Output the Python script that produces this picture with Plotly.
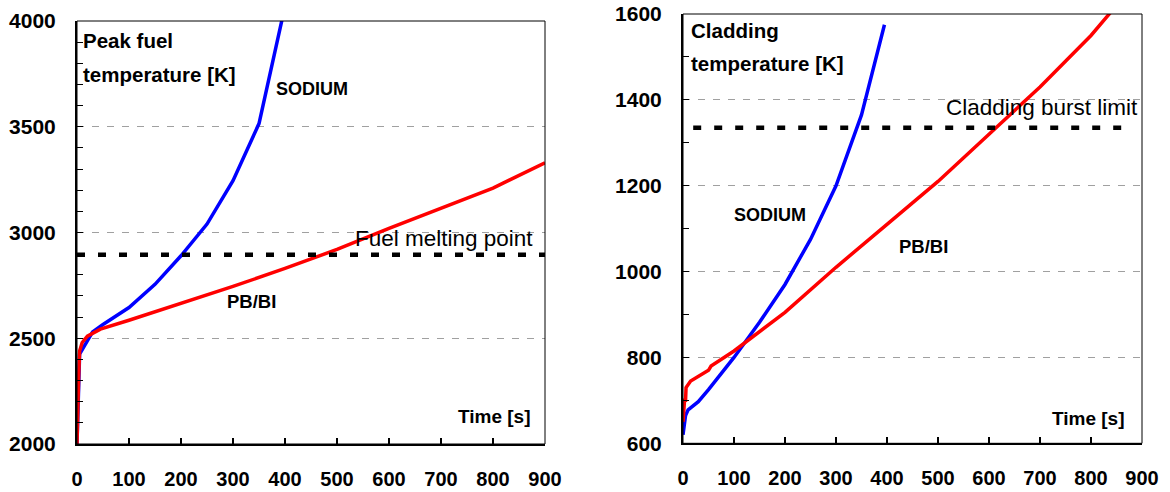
import plotly.graph_objects as go

# ---------------- data ----------------
# Left panel: peak fuel temperature [K] vs time [s]
fuel_sodium_t = [0, 2, 5, 30, 50, 100, 150, 200, 250, 300, 350, 400]
fuel_sodium_T = [2000, 2200, 2425, 2530, 2565, 2645, 2755, 2890, 3040, 3245, 3515, 4070]
fuel_pbbi_t = [0, 2, 3, 5, 10, 20, 45, 100, 200, 300, 400, 500, 600, 700, 800, 900]
fuel_pbbi_T = [2000, 2290, 2300, 2440, 2480, 2510, 2543, 2585, 2665, 2745, 2830, 2920, 3020, 3115, 3210, 3330]
fuel_melting_point = 2895
fuel_limit_t = [0, 900]

# Right panel: cladding temperature [K] vs time [s]
clad_sodium_t = [0, 2, 5, 10, 30, 50, 100, 150, 200, 250, 300, 350, 395]
clad_sodium_T = [620, 645, 665, 678, 697, 725, 800, 882, 970, 1075, 1200, 1365, 1575]
clad_pbbi_t = [0, 2, 3, 5, 6, 15, 50, 55, 80, 100, 200, 300, 400, 500, 600, 700, 800, 850]
clad_pbbi_T = [650, 690, 700, 700, 730, 745, 770, 780, 800, 815, 905, 1010, 1110, 1210, 1320, 1430, 1550, 1620]
clad_burst_limit = 1335
clad_limit_t = [20, 880]

x_ticks = [0, 100, 200, 300, 400, 500, 600, 700, 800, 900]
fuel_y_ticks = [2000, 2500, 3000, 3500, 4000]
clad_y_ticks = [600, 800, 1000, 1200, 1400, 1600]

# ---------------- style ----------------
W, H = 1170, 492
NARROW = "Liberation Sans Narrow, Liberation Sans, Arial, sans-serif"
REG = "Liberation Sans, Arial, sans-serif"
BLUE = "#0000FF"
RED = "#FF0000"

fig = go.Figure()

def add_curves(xa, ya, st, sT, pt, pT, lt, lv):
    fig.add_trace(go.Scatter(x=st, y=sT, mode="lines", line=dict(color=BLUE, width=3.5),
                             xaxis=xa, yaxis=ya, showlegend=False, name="SODIUM"))
    fig.add_trace(go.Scatter(x=pt, y=pT, mode="lines", line=dict(color=RED, width=3.5),
                             xaxis=xa, yaxis=ya, showlegend=False, name="PB/BI"))
    fig.add_trace(go.Scatter(x=lt, y=[lv, lv], mode="lines",
                             line=dict(color="black", width=4.5, dash="8px,13px"),
                             xaxis=xa, yaxis=ya, showlegend=False, name="limit"))

add_curves("x", "y", fuel_sodium_t, fuel_sodium_T, fuel_pbbi_t, fuel_pbbi_T,
           fuel_limit_t, fuel_melting_point)
add_curves("x2", "y2", clad_sodium_t, clad_sodium_T, clad_pbbi_t, clad_pbbi_T,
           clad_limit_t, clad_burst_limit)

def xaxis(domain, anchor):
    return dict(domain=domain, anchor=anchor, range=[0, 900], tickvals=x_ticks,
                ticks="inside", ticklen=6, tickwidth=1.5, tickcolor="black",
                showline=True, linecolor="black", linewidth=2, mirror=False,
                showgrid=False, zeroline=False, automargin=False,
                tickfont=dict(family=NARROW, size=20, color="black", weight="bold"),
                ticklabelstandoff=16)

def yaxis(domain, anchor, rng, vals):
    return dict(domain=domain, anchor=anchor, range=rng, tickvals=vals,
                ticks="inside", ticklen=6, tickwidth=1, tickcolor="black",
                showline=True, linecolor="black", linewidth=2, mirror=False,
                showgrid=True, gridcolor="#A0A0A0", gridwidth=1, griddash="7px,8px",
                zeroline=False, automargin=False,
                tickfont=dict(family=NARROW, size=21, color="black", weight="bold"),
                ticklabelstandoff=15,
                minor=dict(dtick=100, ticks="inside", ticklen=6, tickcolor="black",
                           tickwidth=1, showgrid=False))

L_x = [77 / W, 545 / W]
R_x = [683 / W, 1142 / W]
L_y = [1 - 444 / H, 1 - 21 / H]
R_y = [1 - 443.3 / H, 1 - 14 / H]

fig.update_layout(
    width=W, height=H,
    margin=dict(l=0, r=0, t=0, b=0, autoexpand=False),
    paper_bgcolor="white", plot_bgcolor="white",
    xaxis=xaxis(L_x, "y"),
    yaxis=yaxis(L_y, "x", [2000, 4000], fuel_y_ticks),
    xaxis2=xaxis(R_x, "y2"),
    yaxis2=yaxis(R_y, "x2", [600, 1600], clad_y_ticks),
)

# plot frames (top and right borders)
for xr, yr in [("x", "y"), ("x2", "y2")]:
    fig.add_shape(type="rect", xref=f"{xr} domain", yref=f"{yr} domain",
                  x0=0, x1=1, y0=0, y1=1, line=dict(color="black", width=1),
                  layer="above")

def label(px, py, text, bold=True, size=20.5):
    font = dict(family=NARROW if bold else REG, size=size, color="black",
                weight="bold" if bold else "normal")
    fig.add_annotation(x=px / W, y=1 - py / H, xref="paper", yref="paper",
                       text=text, showarrow=False, xanchor="left", yanchor="middle",
                       font=font)

# left panel texts
label(81, 40.5, "Peak fuel")
label(81, 74, "temperature [K]")
label(274, 89, "SODIUM", size=18)
label(225, 301, "PB/BI", size=18.5)
label(353, 238, "Fuel melting point", bold=False, size=22.5)
label(456, 416, "Time [s]", size=19)

# right panel texts
label(689, 30, "Cladding")
label(689, 63, "temperature [K]")
label(732, 214.5, "SODIUM", size=18)
label(897, 246, "PB/BI", size=18.5)
label(944, 108, "Cladding burst limit", bold=False, size=22.5)
label(1050, 418, "Time [s]", size=19)

fig.write_html("out.html", config={"displayModeBar": False},
               post_script="document.body.style.margin='0';document.body.style.overflow='hidden';")
